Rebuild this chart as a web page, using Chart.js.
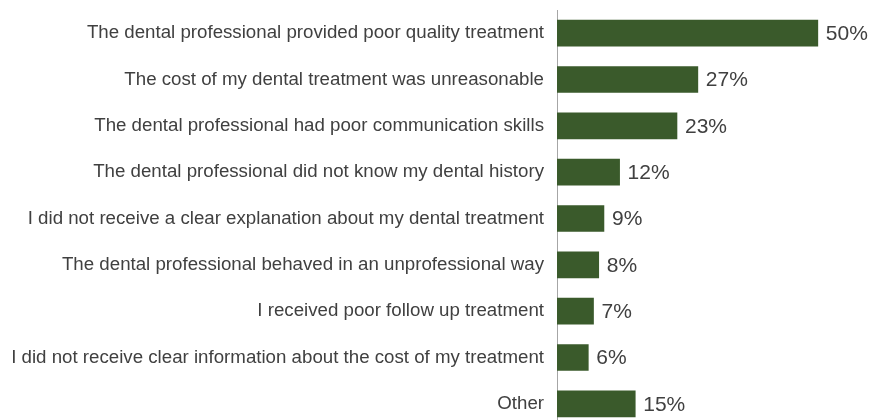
<!DOCTYPE html>
<html>
<head>
<meta charset="utf-8">
<script src="https://cdn.jsdelivr.net/npm/chart.js@4/dist/chart.umd.min.js"></script>
<style>
  html, body { margin: 0; padding: 0; background: #fff; overflow: hidden; }
  canvas { display: block; }
</style>
</head>
<body>
<canvas id="myChart" width="871" height="427"></canvas>
<script>
var categories = [
    'The dental professional provided poor quality treatment',
    'The cost of my dental treatment was unreasonable',
    'The dental professional had poor communication skills',
    'The dental professional did not know my dental history',
    'I did not receive a clear explanation about my dental treatment',
    'The dental professional behaved in an unprofessional way',
    'I received poor follow up treatment',
    'I did not receive clear information about the cost of my treatment',
    'Other'
];
var shares = [50, 27, 23, 12, 9, 8, 7, 6, 15];

var textColor = '#404040';
var fontFamily = '"Liberation Sans", Arial, sans-serif';

// writes the percentage just past the end of each bar
var valueLabels = {
    id: 'valueLabels',
    afterDatasetsDraw: function (chart) {
        var ctx = chart.ctx;
        var meta = chart.getDatasetMeta(0);
        ctx.save();
        ctx.font = '21px ' + fontFamily;
        ctx.fillStyle = textColor;
        ctx.textAlign = 'left';
        ctx.textBaseline = 'middle';
        meta.data.forEach(function (bar, i) {
            ctx.fillText(chart.data.datasets[0].data[i] + '%', bar.x + 8, bar.y + 1);
        });
        ctx.restore();
    }
};

var ctx = document.getElementById('myChart').getContext('2d');
var chart = new Chart(ctx, {
    type: 'bar',
    data: {
        labels: categories,
        datasets: [{
            data: shares,
            backgroundColor: '#3a5a2b',
            barThickness: 26
        }]
    },
    options: {
        indexAxis: 'y',
        responsive: false,
        devicePixelRatio: 1,
        animation: false,
        layout: {
            padding: { top: 10, right: 1, left: 0, bottom: 0 }
        },
        plugins: {
            legend: { display: false },
            tooltip: { enabled: false }
        },
        scales: {
            x: {
                display: false,
                min: 0,
                max: 60
            },
            y: {
                grid: { display: false },
                border: { display: true, color: '#a6a6a6', width: 1 },
                ticks: {
                    color: textColor,
                    padding: 5,
                    font: { family: fontFamily, size: 18.7 }
                },
                afterFit: function (scale) {
                    scale.width = 557;
                    scale.paddingTop = 0;
                    scale.paddingBottom = 0;
                }
            }
        }
    },
    plugins: [valueLabels]
});
</script>
</body>
</html>
